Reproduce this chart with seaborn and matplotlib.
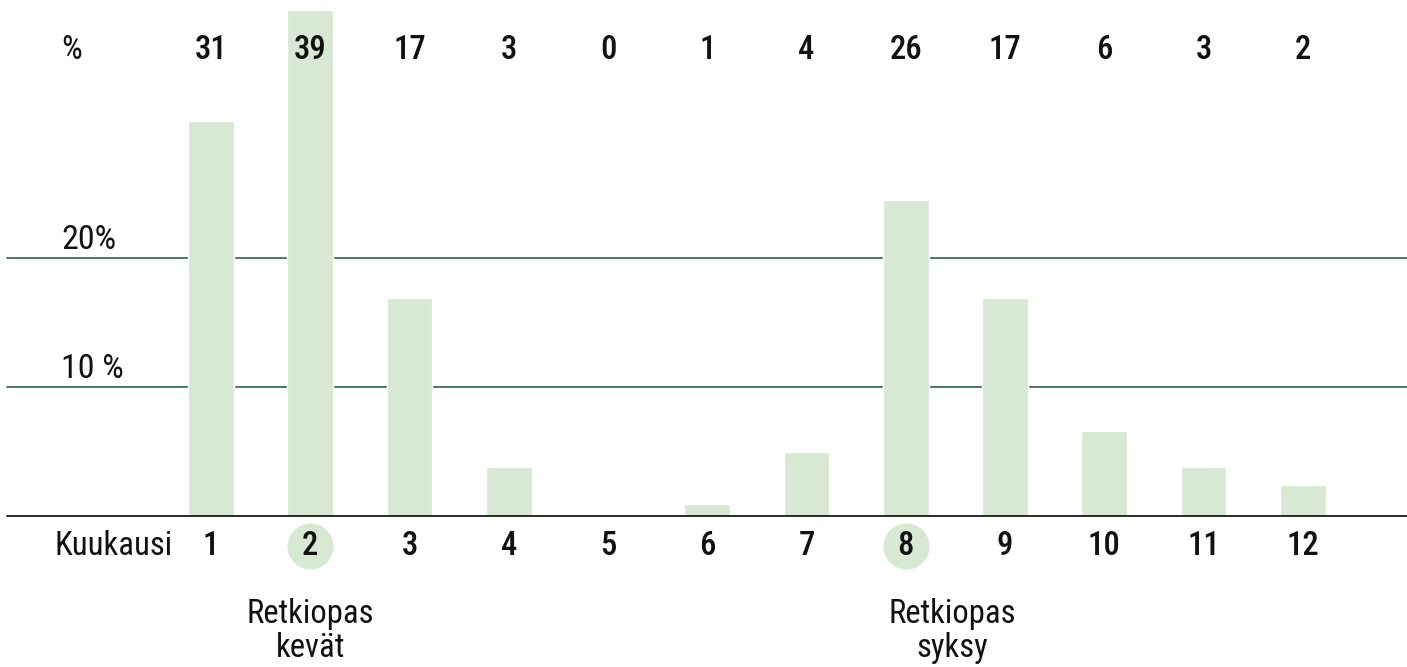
import matplotlib
matplotlib.use('Agg')
import matplotlib.pyplot as plt
import seaborn as sns
import pandas as pd

months = [1, 2, 3, 4, 5, 6, 7, 8, 9, 10, 11, 12]
# bar heights as drawn in the picture (%)
bar_values = [30.6, 39.2, 16.9, 3.8, 0.0, 0.9, 5.0, 24.5, 16.9, 6.6, 3.8, 2.4]
# numbers printed above the chart
value_labels = ['31', '39', '17', '3', '0', '1', '4', '26', '17', '6', '3', '2']
highlight_months = [2, 8]
guide_labels = {2: 'Retkiopas\nkevät', 8: 'Retkiopas\nsyksy'}
grid_levels = [10, 20]
grid_labels = ['10 %', '20%']

bar_color = '#d7e9d3'
grid_color = '#2f5f50'
text_color = '#111111'

sns.set_style('white')
plt.rcParams['font.family'] = ['Roboto Condensed', 'Liberation Sans Narrow', 'Roboto', 'DejaVu Sans']

df = pd.DataFrame({'month': [str(m) for m in months], 'value': bar_values})

fig = plt.figure(figsize=(14.07, 6.67), dpi=100)
ax = fig.add_axes([0, 0, 1, 1])

sns.barplot(data=df, x='month', y='value', color=bar_color, width=0.46,
            saturation=1, ax=ax, zorder=3)

ax.set_xlim(-2.125, 12.05)
ax.set_ylim(-11.7, 40.0)
ax.axis('off')

fs = 23.5

# grid lines behind bars
for lvl, lab in zip(grid_levels, grid_labels):
    ax.axhline(lvl, xmin=0.005, xmax=1, color=grid_color, lw=1.2, zorder=1)
    ax.text(-1.51, lvl + 0.15, lab, fontsize=24.5, ha='left', va='bottom', color=text_color)

ax.axhline(0, xmin=0.005, xmax=1, color='#1a1a1a', lw=1.3, zorder=4)

# header row
top_y = 36.1
ax.text(-1.4, top_y, '%', fontsize=fs, ha='center', va='center', color=text_color)
for i, lab in enumerate(value_labels):
    ax.text(i, top_y, lab, fontsize=fs, fontweight='medium', ha='center', va='center',
            color=text_color, zorder=5)

# month row
month_y = -2.35
hl_pos = [months.index(m) for m in highlight_months]
ax.scatter(hl_pos, [month_y] * len(hl_pos), s=1100, color=bar_color, zorder=2,
           linewidths=0)
ax.text(-0.38, month_y, 'Kuukausi', fontsize=fs, ha='right', va='center', color=text_color)
for i, m in enumerate(months):
    ax.text(i, month_y, str(m), fontsize=fs, fontweight='medium', ha='center', va='center',
            color=text_color, zorder=5)

ax.text(1.0, -8.9, guide_labels[2], fontsize=fs, ha='center', va='center',
        linespacing=1.05, color=text_color)
ax.text(7.47, -8.9, guide_labels[8], fontsize=fs, ha='center', va='center',
        linespacing=1.05, color=text_color)

fig.savefig('out.png', dpi=100)
